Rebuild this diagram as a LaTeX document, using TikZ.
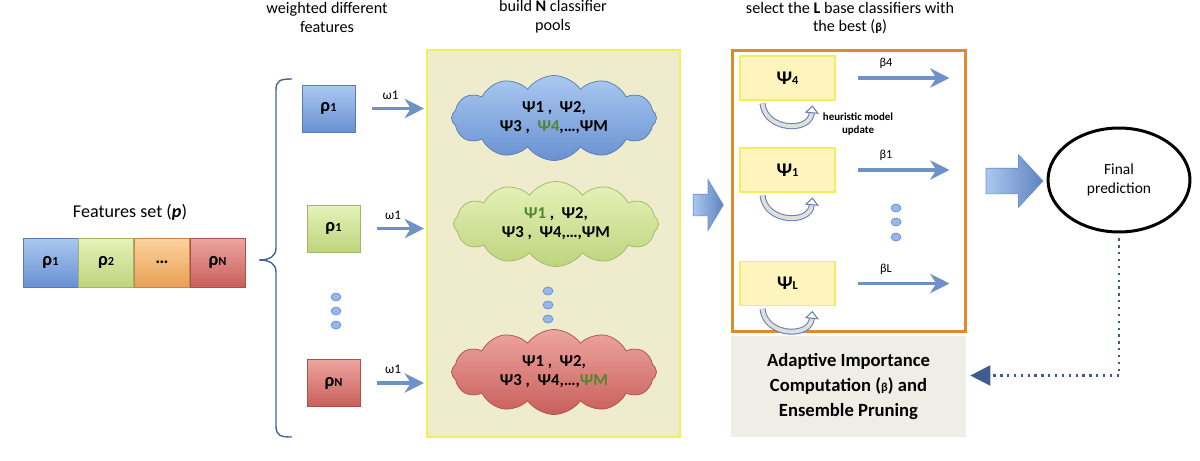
\documentclass[tikz,border=0pt]{standalone}
\usepackage{fontspec}
\setmainfont{Carlito}
\usetikzlibrary{positioning,shapes.geometric,shapes.symbols,shapes.arrows,arrows.meta}

\definecolor{blueT}{RGB}{170,200,240}
\definecolor{blueB}{RGB}{105,145,210}
\definecolor{greenT}{RGB}{230,242,185}
\definecolor{greenB}{RGB}{190,212,125}
\definecolor{orangeT}{RGB}{252,210,160}
\definecolor{orangeB}{RGB}{232,160,85}
\definecolor{redT}{RGB}{238,165,160}
\definecolor{redB}{RGB}{200,95,90}
\definecolor{arrowblue}{RGB}{110,145,200}
\definecolor{bracecol}{RGB}{68,99,154}
\definecolor{panelfill}{RGB}{238,236,205}
\definecolor{panelline}{RGB}{242,240,90}
\definecolor{psifill}{RGB}{254,244,190}
\definecolor{selline}{RGB}{224,138,45}
\definecolor{grayfill}{RGB}{238,237,230}
\definecolor{pickgreen}{RGB}{80,135,45}
\definecolor{fbblue}{RGB}{62,92,142}

\newcommand{\sm}[1]{{\fontsize{7}{7}\selectfont #1}}

\tikzset{
  feat/.style 2 args={top color=#1, bottom color=#2, draw=#2!85!black,
    minimum width=1.1cm, minimum height=0.98cm, inner sep=0pt,
    font=\bfseries\fontsize{10.5}{10.5}\selectfont},
  wfeat/.style 2 args={feat={#1}{#2}, minimum width=1.06cm, minimum height=0.94cm},
  pool/.style 2 args={cloud, cloud puffs=12, cloud puff arc=110, aspect=2.5,
    top color=#1, bottom color=#2, draw=#2!85!black,
    minimum width=4.1cm, minimum height=1.7cm, inner sep=0pt,
    align=center, font=\bfseries\fontsize{9.5}{10.8}\selectfont},
  title/.style={align=center, font=\fontsize{9.2}{10.8}\selectfont},
  warrow/.style={draw=arrowblue, line width=1.9pt,
    -{Stealth[length=11pt, width=11pt, inset=3.5pt]}},
  psibox/.style={fill=psifill, draw=panelline, line width=1pt,
    minimum width=1.9cm, minimum height=0.88cm, inner sep=0pt,
    font=\bfseries\fontsize{11}{11}\selectfont},
  updarrow/.style={draw=bracecol!80!white, double=gray!25, double distance=2.2pt,
    line width=0.6pt, -{Triangle[open, length=4.5pt, width=8pt]}},
  dotc/.style={fill=blueT!70!blueB, draw=blueB},
  bigarr/.style={single arrow, left color=blueT, right color=blueB!90!black,
    draw=blueB, inner xsep=0.05cm},
}

\begin{document}
\begin{tikzpicture}[x=0.02cm, y=-0.02cm]
\useasboundingbox (0,0) rectangle (1200,460);

% feature set
\node[font=\fontsize{10.3}{12}\selectfont] (fstitle) at (130,212) {Features set (\textbf{\textit{p}})};
\node[feat={blueT}{blueB}] (f1) at (50.5,262.5) {ρ\sm{1}};
\node[feat={greenT}{greenB}, right=0pt of f1] (f2) {ρ\sm{2}};
\node[feat={orangeT}{orangeB}, right=0pt of f2] (f3) {…};
\node[feat={redT}{redB}, right=0pt of f3] (fN) {ρ\sm{N}};

% brace
\draw[bracecol, line width=0.8pt] (292,79) .. controls (281,79) and (276,80) .. (276,90)
  -- (276,248) .. controls (276,256) and (270,260) .. (259,260)
  .. controls (270,260) and (276,264) .. (276,272)
  -- (276,426) .. controls (276,436) and (281,437) .. (292,437);

% weighted features
\node[title] (wtitle) at (327,17) {weighted different\\features};
\node[wfeat={blueT}{blueB}] (p1) at (328.5,108.5) {ρ\sm{1}};
\node[wfeat={greenT}{greenB}] (p2) at (333.5,228.5) {ρ\sm{1}};
\node[wfeat={redT}{redB}] (pN) at (333.5,383) {ρ\sm{N}};
\foreach \y in {297,311,325}
  \filldraw[dotc] (336,\y) ellipse (0.1cm and 0.08cm);

% classifier pools
\node[title] (btitle) at (553,17) {build \textbf{N} classifier\\pools};
\node[fill=panelfill, draw=panelline, line width=1.2pt,
  minimum width=5.06cm, minimum height=7.74cm] (panel) at (553.5,243.5) {};
\node[pool={blueT}{blueB}] (c1) at (554,118)
  {Ψ1 ,\ \ Ψ2,\\Ψ3 ,\ \ \textcolor{pickgreen}{Ψ4},…,ΨM};
\node[pool={greenT}{greenB}] (c2) at (556,224)
  {\textcolor{pickgreen}{Ψ1} ,\ \ Ψ2,\\Ψ3 ,\ \ Ψ4,…,ΨM};
\node[pool={redT}{redB}] (cN) at (554,372)
  {Ψ1 ,\ \ Ψ2,\\Ψ3 ,\ \ Ψ4,…,\textcolor{pickgreen}{ΨM}};
\foreach \y in {291,305,319}
  \filldraw[dotc] (548,\y) ellipse (0.1cm and 0.08cm);

\foreach \p in {p1,p2,pN}
  \draw[warrow, shorten <=0.34cm, shorten >=0.04cm] (\p.east) -- (\p.east -| panel.west)
    node[midway, above=1pt, font=\fontsize{7.5}{7.5}\selectfont, text=black] {ω1};

\node[bigarr, inner ysep=0.21cm, single arrow head extend=0.29cm,
  single arrow tip angle=118, minimum height=0.6cm] (ar1) at (705,205) {};

% selected classifiers
\node[title] (stitle) at (850,18) {select the \textbf{L} base classifiers with\\the best (\textbf{\sm{β}})};
\node[draw=selline, line width=1.7pt, fill=white,
  minimum width=4.68cm, minimum height=5.64cm] (sel) at (849,191) {};
\node[psibox] (s4) at (787.5,78) {Ψ\sm{4}};
\node[psibox] (s1) at (787.5,170) {Ψ\sm{1}};
\node[psibox] (sL) at (787.5,283.5) {Ψ\sm{L}};
\foreach \s in {s4,s1,sL}
  \draw[updarrow] ([xshift=-0.5cm, yshift=-0.05cm]\s.south)
    .. controls +(0.05cm,-0.55cm) and +(-0.05cm,-0.55cm) .. ([xshift=0.5cm, yshift=-0.09cm]\s.south);
\node[font=\bfseries\fontsize{6.2}{7.8}\selectfont, align=center] (heur) at (858,124) {heuristic model\\update};
\draw[warrow, shorten <=0.44cm, shorten >=0.36cm] (s4.east) -- (s4.east -| sel.east)
  node[pos=0.38, above=1pt, font=\fontsize{7}{7}\selectfont, text=black] {\sm{β}4};
\draw[warrow, shorten <=0.44cm, shorten >=0.36cm] (s1.east) -- (s1.east -| sel.east)
  node[pos=0.38, above=1pt, font=\fontsize{7}{7}\selectfont, text=black] {\sm{β}1};
\draw[warrow, shorten <=0.44cm, shorten >=0.36cm] (sL.east) -- (sL.east -| sel.east)
  node[pos=0.38, above=1pt, font=\fontsize{7}{7}\selectfont, text=black] {\sm{β}L};
\foreach \y in {208,222,237}
  \filldraw[dotc] (896,\y) ellipse (0.1cm and 0.08cm);

% pruning
\node[fill=grayfill, minimum width=4.7cm, minimum height=2.02cm, align=center,
  font=\bfseries\fontsize{10.6}{14.2}\selectfont] (adapt) at (848.5,386.5)
  {Adaptive Importance\\Computation ({\fontsize{7}{7}\selectfont β}) and\\Ensemble Pruning};

% final prediction
\node[bigarr, inner ysep=0.25cm, single arrow head extend=0.27cm,
  single arrow tip angle=94, minimum height=1.14cm] (ar2) at (1008.5,181) {};
\node[ellipse, draw=black, line width=1.7pt, minimum width=2.84cm, minimum height=2.08cm,
  align=center, font=\fontsize{8.8}{11}\selectfont] (fin) at (1119,180) {Final\\prediction};
\draw[fbblue, line width=1.3pt, dash pattern=on 1.3pt off 2.6pt, shorten <=0.1cm, shorten >=0.08cm,
  -{Triangle[length=0.4cm, width=0.4cm]}] (fin.south) |- ([yshift=0.22cm]adapt.east);
\end{tikzpicture}
\end{document}
